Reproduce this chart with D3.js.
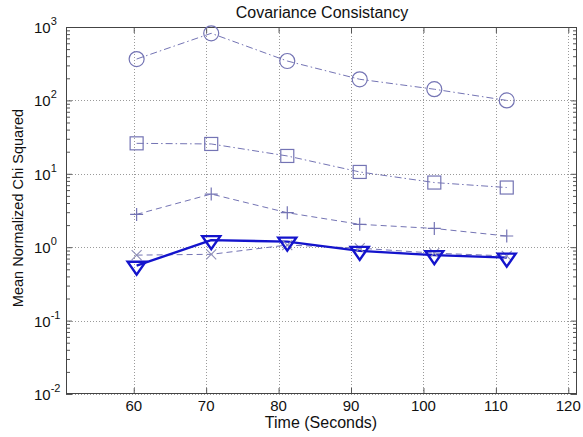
<!DOCTYPE html>
<html>
<head>
<meta charset="utf-8">
<script src="https://cdn.jsdelivr.net/npm/d3@7"></script>
<style>
  html, body { margin: 0; padding: 0; background: #fff; }
  svg { display: block; }
  text { font-family: "Liberation Sans", Arial, Helvetica, sans-serif; fill: #111; }
</style>
</head>
<body>
<svg id="chart" width="583" height="437"></svg>
<script>
// ---- data ----
const timeSec        = [60.4, 70.7, 81.2, 91.2, 101.5, 111.5];
const circleSeries   = [366, 820, 344, 194, 142, 100];
const squareSeries   = [26, 25.5, 17.5, 10.6, 7.6, 6.5];
const plusSeries     = [2.8, 5.3, 2.95, 2.05, 1.8, 1.42];
const crossSeries    = [0.78, 0.80, 1.07, 0.97, 0.83, 0.76];
const triangleSeries = [0.56, 1.25, 1.19, 0.89, 0.78, 0.72];
const xTicks = [60, 70, 80, 90, 100, 110, 120];
const yTickExponents = [-2, -1, 0, 1, 2, 3];
const titleText = "Covariance Consistancy";
const xLabel = "Time (Seconds)";
const yLabel = "Mean Normalized Chi Squared";

// ---- layout ----
const pLeft = 66, pRight = 577, pTop = 27, pBottom = 394;
const svg = d3.select("#chart");

const x = d3.scaleLinear().domain([50.65, 121.2]).range([pLeft, pRight]);
const y = d3.scaleLog().domain([0.01, 1000]).range([pBottom, pTop]);

// grid
const grid = svg.append("g").attr("stroke", "#9a9a9a").attr("stroke-width", 1)
  .attr("stroke-dasharray", "1,2");
xTicks.forEach(t => {
  grid.append("line").attr("x1", Math.round(x(t)) + 0.5).attr("x2", Math.round(x(t)) + 0.5)
    .attr("y1", pTop).attr("y2", pBottom);
});
yTickExponents.forEach(e => {
  const v = Math.pow(10, e);
  grid.append("line").attr("x1", pLeft).attr("x2", pRight)
    .attr("y1", Math.round(y(v)) + 0.5).attr("y2", Math.round(y(v)) + 0.5);
});

// axes with inward ticks
const axisColor = "#555";
const minorVals = [];
for (let e = -2; e < 3; e++) for (let m = 2; m <= 9; m++) minorVals.push(m * Math.pow(10, e));
const majorVals = yTickExponents.map(e => Math.pow(10, e));

const gL = svg.append("g").attr("transform", `translate(${pLeft},0)`)
  .call(d3.axisRight(y).tickValues(minorVals).tickSize(4).tickFormat(""));
const gLM = svg.append("g").attr("transform", `translate(${pLeft},0)`)
  .call(d3.axisRight(y).tickValues(majorVals).tickSize(6).tickFormat(""));
const gR = svg.append("g").attr("transform", `translate(${pRight},0)`)
  .call(d3.axisLeft(y).tickValues(minorVals).tickSize(4).tickFormat(""));
const gRM = svg.append("g").attr("transform", `translate(${pRight},0)`)
  .call(d3.axisLeft(y).tickValues(majorVals).tickSize(6).tickFormat(""));
const gB = svg.append("g").attr("transform", `translate(0,${pBottom})`)
  .call(d3.axisTop(x).tickValues(xTicks).tickSize(6).tickFormat(""));
const gT = svg.append("g").attr("transform", `translate(0,${pTop})`)
  .call(d3.axisBottom(x).tickValues(xTicks).tickSize(6).tickFormat(""));
[gL, gLM, gR, gRM, gB, gT].forEach(g => {
  g.select(".domain").remove();
  g.selectAll("line").attr("stroke", axisColor);
});
// box
svg.append("rect").attr("x", pLeft + 0.5).attr("y", pTop + 0.5)
  .attr("width", pRight - pLeft - 1).attr("height", pBottom - pTop - 1)
  .attr("fill", "none").attr("stroke", "#444").attr("stroke-width", 1);

// x tick labels
svg.append("g").selectAll("text").data(xTicks).join("text")
  .attr("x", d => x(d)).attr("y", 411).attr("text-anchor", "middle")
  .attr("font-size", 15).text(d => d);

// y tick labels 10^e
const yl = svg.append("g").selectAll("text").data(yTickExponents).join("text")
  .attr("x", 34).attr("y", d => y(Math.pow(10, d)) + 6).attr("font-size", 15);
yl.append("tspan").text("10");
yl.append("tspan").attr("dy", -8).attr("font-size", 11).text(d => d);

// title and labels
svg.append("text").attr("x", 322).attr("y", 18).attr("text-anchor", "middle")
  .attr("font-size", 16).text(titleText);
svg.append("text").attr("x", 321).attr("y", 428).attr("text-anchor", "middle")
  .attr("font-size", 16).text(xLabel);
svg.append("text").attr("transform", "translate(23,208) rotate(-90)")
  .attr("text-anchor", "middle").attr("font-size", 14.5).text(yLabel);

// series
const lineGen = vals => d3.line().x((d, i) => x(timeSec[i])).y(d => y(d))(vals);
const faint = "#7474b4";
const blue = "#1414cc";
const plot = svg.append("g");

function drawLine(vals, color, width, dash) {
  plot.append("path").attr("d", lineGen(vals)).attr("fill", "none")
    .attr("stroke", color).attr("stroke-width", width)
    .attr("stroke-dasharray", dash || null).attr("stroke-linejoin", "round");
}
drawLine(circleSeries, faint, 1, "7,3,1.5,3");
drawLine(squareSeries, faint, 1, "7,3,1.5,3");
drawLine(plusSeries, faint, 1, "6,4");
drawLine(crossSeries, faint, 1, "6,4");
drawLine(triangleSeries, blue, 2.4, null);

// markers
plot.append("g").selectAll("circle").data(circleSeries).join("circle")
  .attr("cx", (d, i) => x(timeSec[i])).attr("cy", d => y(d)).attr("r", 7.5)
  .attr("fill", "none").attr("stroke", faint).attr("stroke-width", 1.2);
plot.append("g").selectAll("rect").data(squareSeries).join("rect")
  .attr("x", (d, i) => x(timeSec[i]) - 6.5).attr("y", d => y(d) - 6.5)
  .attr("width", 13).attr("height", 13)
  .attr("fill", "none").attr("stroke", faint).attr("stroke-width", 1.2);
plot.append("g").selectAll("path").data(plusSeries).join("path")
  .attr("d", (d, i) => {
    const cx = x(timeSec[i]), cy = y(d);
    return `M${cx - 6.5},${cy}H${cx + 6.5}M${cx},${cy - 6.5}V${cy + 6.5}`;
  })
  .attr("fill", "none").attr("stroke", faint).attr("stroke-width", 1.2);
plot.append("g").selectAll("path").data(crossSeries).join("path")
  .attr("d", (d, i) => {
    const cx = x(timeSec[i]), cy = y(d);
    return `M${cx - 5},${cy - 5}L${cx + 5},${cy + 5}M${cx - 5},${cy + 5}L${cx + 5},${cy - 5}`;
  })
  .attr("fill", "none").attr("stroke", "#9090b8").attr("stroke-width", 1.1);
plot.append("g").selectAll("path").data(triangleSeries).join("path")
  .attr("d", (d, i) => {
    const cx = x(timeSec[i]), cy = y(d);
    return `M${cx - 9},${cy - 4}L${cx + 9},${cy - 4}L${cx},${cy + 9}Z`;
  })
  .attr("fill", "none").attr("stroke", blue).attr("stroke-width", 2.4)
  .attr("stroke-linejoin", "miter");
</script>
</body>
</html>
